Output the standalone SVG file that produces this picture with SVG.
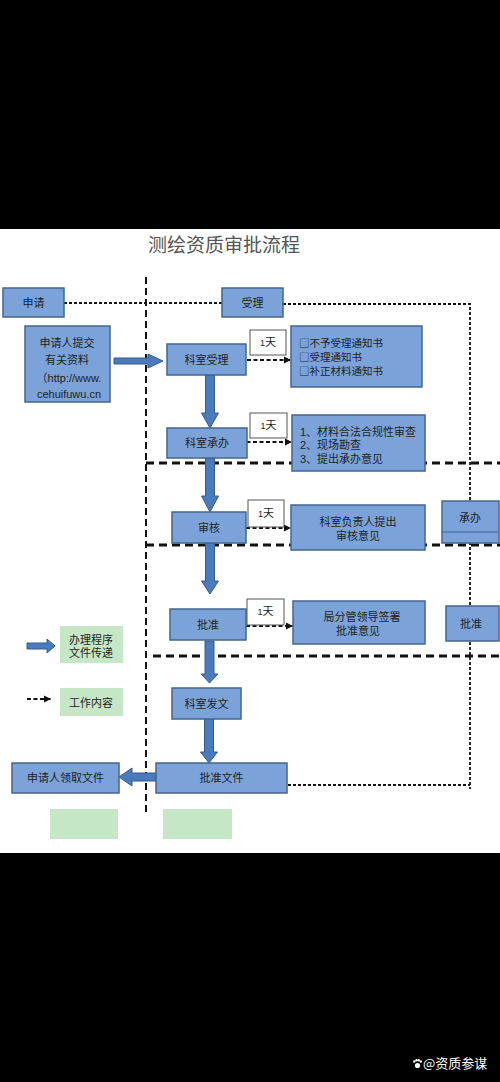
<svg xmlns="http://www.w3.org/2000/svg" width="500" height="1082" viewBox="0 0 500 1082">
<style>
.box{fill:#7ba3d9;stroke:#44658f;stroke-width:1.5}
.wbox{fill:#ffffff;stroke:#555;stroke-width:1}
.gbox{fill:#c6e7c6;stroke:none}
.t{font-family:"Liberation Sans","Noto Sans CJK SC",sans-serif;font-size:11px;fill:#1e1e1e}
.cjk{font-family:"Noto Sans CJK SC",sans-serif;font-size:10.5px}
.c{text-anchor:middle}
.arr{fill:#4a7bbd;stroke:#375a8a;stroke-width:1}
.thin{fill:none;stroke:#111;stroke-width:1.8;stroke-dasharray:3 2}
.darr{fill:none;stroke:#111;stroke-width:1.8;stroke-dasharray:4 2.5}
.thick{fill:none;stroke:#111;stroke-width:3;stroke-dasharray:8 5}
.vmain{fill:none;stroke:#111;stroke-width:2;stroke-dasharray:7 4}
</style>
<defs>
<marker id="ah" markerWidth="8" markerHeight="8" refX="7" refY="4" orient="auto" markerUnits="userSpaceOnUse">
<path d="M0,0.5 L7,4 L0,7.5 Z" fill="#111"/>
</marker>
</defs>
<rect x="0" y="0" width="500" height="1082" fill="#000"/>
<rect x="0" y="229" width="500" height="624" fill="#fff"/>
<text x="224" y="252" text-anchor="middle" font-family="'Noto Sans CJK SC',sans-serif" font-size="19" fill="#555">测绘资质审批流程</text>

<g id="connectors">
<line class="vmain" x1="146" y1="277" x2="146" y2="815"/>
<line class="thin" x1="64" y1="303" x2="222" y2="303"/>
<polyline class="thin" points="283,304 470,304 470,789"/>
<line class="thin" x1="278" y1="785" x2="470" y2="785"/>
<line class="thick" x1="146" y1="463" x2="500" y2="463"/>
<line class="thick" x1="146" y1="545" x2="500" y2="545"/>
<line class="thick" x1="153" y1="656" x2="500" y2="656"/>
<polygon class="arr" points="114,358 148,358 148,354 163,361 148,368 148,364 114,364"/>
<polygon class="arr" points="205.5,375 214.5,375 214.5,413 218.5,413 210,428 201.5,413 205.5,413"/>
<polygon class="arr" points="205.5,458 214.5,458 214.5,496 218.5,496 210,512 201.5,496 205.5,496"/>
<polygon class="arr" points="205.5,543 214.5,543 214.5,581 218.5,581 210,594 201.5,581 205.5,581"/>
<polygon class="arr" points="205,641 214,641 214,674 218,674 209.5,683 201,674 205,674"/>
<polygon class="arr" points="204.5,719 213.5,719 213.5,752 217.5,752 209,763 200.5,752 204.5,752"/>
<polygon class="arr" points="161,773 132,773 132,768 119,777 132,786 132,781 161,781"/>
<line class="darr" x1="247" y1="360" x2="291" y2="360" marker-end="url(#ah)"/>
<line class="darr" x1="240" y1="442" x2="292" y2="442" marker-end="url(#ah)"/>
<line class="darr" x1="246" y1="528" x2="291" y2="528" marker-end="url(#ah)"/>
<line class="darr" x1="246" y1="626" x2="293" y2="626" marker-end="url(#ah)"/>
</g>

<g id="n-shenqing"><rect class="box" x="3" y="288" width="61" height="29"/><text class="t c" x="33.5" y="307">申请</text></g>
<g id="n-shouli"><rect class="box" x="222" y="288" width="61" height="29"/><text class="t c" x="252.5" y="307">受理</text></g>
<g id="n-tijiao"><rect class="box" x="25" y="326" width="85" height="76"/>
<text class="t c" x="67" y="347">申请人提交</text>
<text class="t c" x="67" y="364">有关资料</text>
<text class="t c" x="69" y="382" font-size="12">（http://www.</text>
<text class="t c" x="69" y="398" font-size="12.5">cehuifuwu.cn</text></g>
<g id="n-keshishouli"><rect class="box" x="167" y="344" width="79" height="31"/><text class="t c" x="206.5" y="364">科室受理</text></g>
<g id="n-day1"><rect class="wbox" x="250" y="330" width="36" height="25"/><text class="t c" x="268" y="346"><tspan font-size="9">1</tspan>天</text></g>
<g id="n-c1"><rect class="box" x="291" y="326" width="131" height="61"/>
<text class="t cjk" x="299" y="347">□不予受理通知书</text>
<text class="t cjk" x="299" y="361">□受理通知书</text>
<text class="t cjk" x="299" y="375">□补正材料通知书</text></g>
<g id="n-chengban"><rect class="box" x="167" y="428" width="80" height="30"/><text class="t c" x="207" y="447">科室承办</text></g>
<g id="n-day2"><rect class="wbox" x="250" y="413" width="37" height="25"/><text class="t c" x="268.5" y="429"><tspan font-size="9">1</tspan>天</text></g>
<g id="n-c2"><rect class="box" x="292" y="415" width="133" height="56"/>
<text class="t" x="300" y="436">1、材料合法合规性审查</text>
<text class="t" x="300" y="449">2、现场勘查</text>
<text class="t" x="300" y="463">3、提出承办意见</text></g>
<g id="n-shenhe"><rect class="box" x="172" y="512" width="74" height="31"/><text class="t c" x="209" y="532">审核</text></g>
<g id="n-day3"><rect class="wbox" x="248" y="500" width="36" height="27"/><text class="t c" x="266" y="517"><tspan font-size="9">1</tspan>天</text></g>
<g id="n-c3"><rect class="box" x="291" y="505" width="134" height="45"/>
<text class="t c" x="358" y="526">科室负责人提出</text>
<text class="t c" x="358" y="540">审核意见</text></g>
<g id="n-rchengban"><rect class="box" x="442" y="501" width="57" height="42"/><line x1="442" y1="532" x2="499" y2="532" stroke="#44658f" stroke-width="1.2"/><text class="t c" x="470" y="522">承办</text></g>
<g id="n-pizhun"><rect class="box" x="170" y="609" width="76" height="31"/><text class="t c" x="208" y="629">批准</text></g>
<g id="n-day4"><rect class="wbox" x="247" y="599" width="37" height="26"/><text class="t c" x="265.5" y="615"><tspan font-size="9">1</tspan>天</text></g>
<g id="n-c4"><rect class="box" x="293" y="601" width="132" height="43"/>
<text class="t c" x="362" y="621">局分管领导签署</text>
<text class="t c" x="358" y="635">批准意见</text></g>
<g id="n-rpizhun"><rect class="box" x="446" y="606" width="53" height="35"/><text class="t c" x="471" y="628">批准</text></g>
<g id="n-fawen"><rect class="box" x="172" y="688" width="69" height="31"/><text class="t c" x="206.5" y="708">科室发文</text></g>
<g id="n-pizhunwenjian"><rect class="box" x="156" y="763" width="131" height="30"/><text class="t c" x="221.5" y="782">批准文件</text></g>
<g id="n-lingqu"><rect class="box" x="12" y="763" width="107" height="30"/><text class="t c" x="65.5" y="782">申请人领取文件</text></g>
<g id="n-green1"><rect class="gbox" x="50" y="809" width="68" height="30"/></g>
<g id="n-green2"><rect class="gbox" x="163" y="809" width="69" height="30"/></g>

<g id="legend">
<polygon class="arr" points="27,643 47,643 47,639 55,646 47,653 47,649 27,649"/>
<rect class="gbox" x="60" y="626" width="63" height="37"/>
<text class="t c" x="91" y="644">办理程序</text>
<text class="t c" x="91" y="657">文件传递</text>
<line class="darr" x1="27" y1="699" x2="51" y2="699" marker-end="url(#ah)"/>
<rect class="gbox" x="60" y="688" width="63" height="28"/>
<text class="t c" x="91" y="707">工作内容</text>
</g>

<g id="watermark">
<circle cx="417.5" cy="1065.5" r="2.6" fill="#fff"/>
<circle cx="414.3" cy="1061.5" r="1.2" fill="#fff"/>
<circle cx="416.5" cy="1060.3" r="1.2" fill="#fff"/>
<circle cx="418.7" cy="1060.3" r="1.2" fill="#fff"/>
<circle cx="420.8" cy="1061.5" r="1.2" fill="#fff"/>
<text x="423" y="1068" font-family="'Noto Sans CJK SC',sans-serif" font-size="13" fill="#fff">@资质参谋</text>
</g>
</svg>
